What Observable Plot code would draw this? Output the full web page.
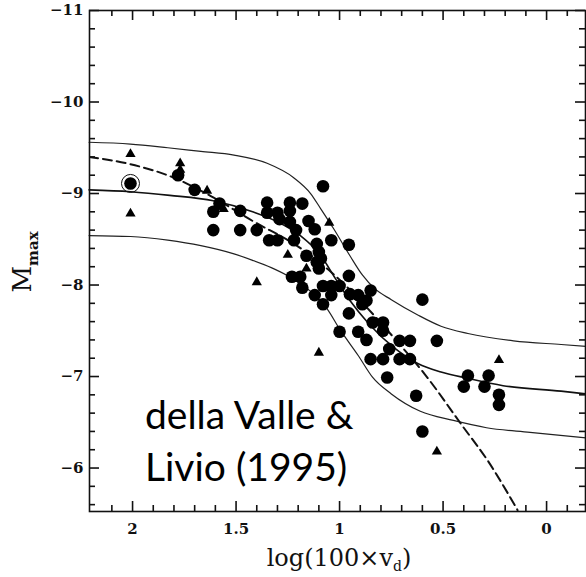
<!DOCTYPE html>
<html><head><meta charset="utf-8">
<script src="https://cdn.jsdelivr.net/npm/d3@7"></script>
<script src="https://cdn.jsdelivr.net/npm/@observablehq/plot@0.6"></script>
<style>body{margin:0;background:#fff}</style>
</head><body><div id="chart"></div>
<script>
// filled circles
const circleX = [2.01,1.78,1.70,1.58,1.61,1.48,1.61,1.48,1.40,1.35,1.24,1.18,1.35,1.30,1.24,1.29,1.24,1.21,1.15,1.12,1.34,1.30,1.22,1.11,1.04,1.10,1.16,1.09,1.11,1.10,1.08,0.955,0.955,1.23,1.19,1.18,1.12,1.08,1.04,1.00,1.04,0.95,0.91,1.08,0.87,0.89,0.955,1.00,0.91,0.87,0.85,0.85,0.60,0.84,0.79,0.79,0.71,0.66,0.53,0.76,0.79,0.71,0.66,0.77,0.63,0.60,0.38,0.28,0.40,0.30,0.23,0.23];
const circleY = [-9.11,-9.20,-9.04,-8.89,-8.80,-8.81,-8.60,-8.60,-8.60,-8.90,-8.90,-8.89,-8.79,-8.79,-8.81,-8.72,-8.69,-8.60,-8.70,-8.61,-8.49,-8.49,-8.49,-8.45,-8.49,-8.36,-8.32,-8.29,-8.25,-8.18,-9.08,-8.44,-8.10,-8.09,-8.09,-7.97,-7.89,-7.99,-7.99,-7.99,-7.89,-7.90,-7.89,-7.79,-7.83,-7.79,-7.69,-7.49,-7.49,-7.40,-7.19,-7.94,-7.84,-7.59,-7.59,-7.50,-7.39,-7.39,-7.39,-7.30,-7.19,-7.19,-7.19,-6.99,-6.79,-6.40,-7.01,-7.01,-6.89,-6.89,-6.80,-6.69];
// filled triangles
const triX = [2.01,1.77,1.77,2.01,1.64,1.56,1.40,1.25,1.05,1.16,1.10,0.23,0.53];
const triY = [-9.43,-9.33,-9.26,-8.78,-9.03,-8.83,-8.03,-8.33,-8.68,-8.18,-7.26,-7.18,-6.18];
// open ring
const ringX = [2.01];
const ringY = [-9.11];
// curves
const upperX = [2.21,2.01,1.83,1.67,1.51,1.35,1.22,1.14,1.09,1.03,0.95,0.89,0.83,0.75,0.62,0.51,0.38,0.16,-0.07,-0.19];
const upperY = [-9.56,-9.54,-9.50,-9.46,-9.42,-9.33,-9.17,-9.00,-8.83,-8.62,-8.32,-8.11,-7.96,-7.84,-7.67,-7.55,-7.47,-7.39,-7.35,-7.33];
const centralX = [2.21,2.01,1.82,1.61,1.42,1.29,1.19,1.09,1.02,0.95,0.86,0.74,0.62,0.51,0.38,0.21,-0.07,-0.19];
const centralY = [-9.04,-9.02,-8.98,-8.92,-8.80,-8.68,-8.54,-8.32,-8.07,-7.83,-7.58,-7.32,-7.14,-7.05,-6.98,-6.90,-6.84,-6.81];
const lowerX = [2.21,2.01,1.83,1.67,1.51,1.42,1.33,1.25,1.14,1.06,1.00,0.91,0.84,0.75,0.61,0.45,0.29,0.08,-0.19];
const lowerY = [-8.54,-8.53,-8.49,-8.43,-8.34,-8.27,-8.19,-8.10,-7.93,-7.74,-7.52,-7.23,-6.99,-6.81,-6.62,-6.52,-6.44,-6.39,-6.33];
const dashedX = [2.21,2.01,1.82,1.62,1.42,1.20,1.04,0.90,0.74,0.59,0.40,0.29,0.14];
const dashedY = [-9.40,-9.32,-9.19,-8.97,-8.70,-8.42,-8.14,-7.83,-7.43,-7.03,-6.44,-6.10,-5.54];
// ticks
const xMajorTicks = [2,1.5,1,0.5,0];
const xMinorTicks = [2.1,1.9,1.8,1.7,1.6,1.4,1.3,1.2,1.1,0.9,0.8,0.7,0.6,0.4,0.3,0.2,0.1,-0.1];
const yMajorTicks = [-11,-10,-9,-8,-7,-6];
const yMinorTicks = [-10.8,-10.6,-10.4,-10.2,-9.8,-9.6,-9.4,-9.2,-8.8,-8.6,-8.4,-8.2,-7.8,-7.6,-7.4,-7.2,-6.8,-6.6,-6.4,-6.2,-5.8,-5.6];
// annotation
const noteX = [1.94];
const noteY = [-5.86];
const noteText = ["della Valle &\nLivio (1995)"];

const zip = (xs, ys) => xs.map((x, i) => ({x, y: ys[i]}));
const serif = "DejaVu Serif";
const W = 586, H = 577, mL = 89, mR = 1, mT = 10, mB = 66;
const fw = W - mL - mR, fh = H - mT - mB;
const majorLen = 10, minorLen = 6;
const ts = {stroke: "#111", strokeWidth: 1.6};

const chart = Plot.plot({
  width: W, height: H,
  marginLeft: mL, marginRight: mR, marginTop: mT, marginBottom: mB,
  x: {domain: [2.208, -0.188], axis: null},
  y: {domain: [-5.525, -11], axis: null},
  style: {background: "#fff", color: "#111"},
  marks: [
    Plot.line(zip(upperX, upperY), {x: "x", y: "y", curve: "monotone-x", stroke: "#222", strokeWidth: 1.2}),
    Plot.line(zip(centralX, centralY), {x: "x", y: "y", curve: "monotone-x", stroke: "#111", strokeWidth: 1.6}),
    Plot.line(zip(lowerX, lowerY), {x: "x", y: "y", curve: "monotone-x", stroke: "#222", strokeWidth: 1.2}),
    Plot.line(zip(dashedX, dashedY), {x: "x", y: "y", curve: "monotone-x", stroke: "#111", strokeWidth: 2, strokeDasharray: "9,5", clip: true}),
    Plot.dot(zip(ringX, ringY), {x: "x", y: "y", r: 9, stroke: "#111", fill: "none", strokeWidth: 1}),
    Plot.dot(zip(circleX, circleY), {x: "x", y: "y", r: 6.3, fill: "#000", stroke: "none"}),
    Plot.dot(zip(triX, triY), {x: "x", y: "y", r: 3.8, symbol: "triangle", fill: "#000", stroke: "none"}),
    Plot.text(noteText.map((t, i) => ({x: noteX[i], y: noteY[i], t})), {x: "x", y: "y", text: "t", textAnchor: "start", lineAnchor: "bottom", lineHeight: 1.33, fontSize: 39, fontFamily: "Lato", fill: "#000"}),
    Plot.frame({stroke: "#111", strokeWidth: 1.6}),
    // inward ticks on all four sides
    Plot.ruleX(xMajorTicks, {x: d => d, insetTop: fh - majorLen, ...ts}),
    Plot.ruleX(xMinorTicks, {x: d => d, insetTop: fh - minorLen, ...ts}),
    Plot.ruleX(xMajorTicks, {x: d => d, insetBottom: fh - majorLen, ...ts}),
    Plot.ruleX(xMinorTicks, {x: d => d, insetBottom: fh - minorLen, ...ts}),
    Plot.ruleY(yMajorTicks, {y: d => d, insetRight: fw - majorLen, ...ts}),
    Plot.ruleY(yMinorTicks, {y: d => d, insetRight: fw - minorLen, ...ts}),
    Plot.ruleY(yMajorTicks, {y: d => d, insetLeft: fw - majorLen, ...ts}),
    Plot.ruleY(yMinorTicks, {y: d => d, insetLeft: fw - minorLen, ...ts}),
    // tick labels
    Plot.axisX(xMajorTicks, {anchor: "bottom", tickSize: 0, tickPadding: 12, label: null, tickFormat: d => String(d), fontFamily: serif, fontWeight: "bold", fontSize: 15, fill: "#111"}),
    Plot.axisY(yMajorTicks, {anchor: "left", tickSize: 0, tickPadding: 6, label: null, tickFormat: d => "\u2212" + Math.abs(d), fontFamily: serif, fontWeight: "bold", fontSize: 15, fill: "#111"})
  ]
});
document.getElementById("chart").appendChild(chart);

// axis titles with subscripts
const svg = d3.select(chart);
const xl = svg.append("text")
  .attr("x", 339).attr("y", 566)
  .attr("text-anchor", "middle")
  .attr("font-family", serif).attr("font-size", 24).attr("fill", "#111");
xl.append("tspan").text("log(100\u00d7v");
xl.append("tspan").attr("font-size", 14).attr("dy", 5).text("d");
xl.append("tspan").attr("dy", -5).text(")");

const yl = svg.append("text")
  .attr("transform", "translate(31,262) rotate(-90)")
  .attr("text-anchor", "middle")
  .attr("font-family", serif).attr("font-size", 26).attr("fill", "#111");
yl.append("tspan").text("M");
yl.append("tspan").attr("font-size", 15).attr("font-weight", "bold").attr("dy", 7).text("max");
</script>
</body></html>
